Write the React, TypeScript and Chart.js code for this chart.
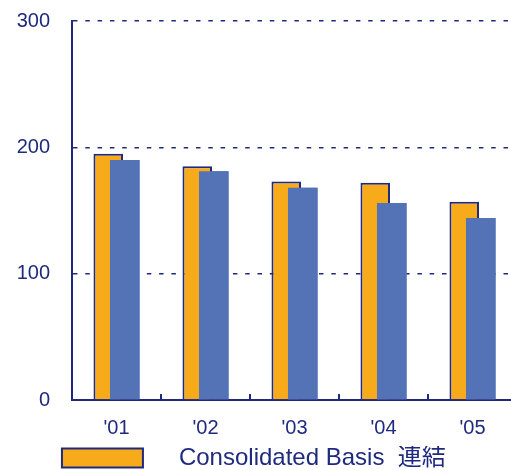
import React, { useEffect, useRef } from "react";
import { Chart, registerables } from "chart.js";

Chart.register(...registerables);

const categories = ["'01", "'02", "'03", "'04", "'05"];
const consolidated = [195, 185, 173, 172, 157];
const secondSeries = [190, 181, 168, 156, 144];
const yTicks = [0, 100, 200, 300];
const legendLabel = "   \u2006Consolidated Basis  連結  \u2006";

const NAVY = "#1f2a7e";
const ORANGE = "#f7ab1b";
const BLUE = "#5472b6";
const CLEAR = "rgba(0,0,0,0)";
const FONT = "'Liberation Sans', Arial, 'Noto Sans CJK JP', sans-serif";

const blueOnTop = {
  id: "blueOnTop",
  afterDatasetsDraw(chart: any) {
    const meta = chart.getDatasetMeta(1);
    if (meta && meta.controller) {
      const ctx = chart.ctx;
      ctx.save();
      meta.controller.draw();
      ctx.restore();
    }
  },
};

const upTicks = {
  id: "upTicks",
  afterDraw(chart: any) {
    const xs = chart.scales.x;
    const ctx = chart.ctx;
    const bottom = chart.chartArea.bottom;
    ctx.save();
    ctx.strokeStyle = NAVY;
    ctx.lineWidth = 2;
    for (let i = 0; i < categories.length; i++) {
      const x = Math.round(xs.getPixelForValue(i + 0.5));
      ctx.beginPath();
      ctx.moveTo(x, bottom);
      ctx.lineTo(x, bottom - 6);
      ctx.stroke();
    }
    ctx.restore();
  },
};

export default function App() {
  const ref = useRef<HTMLCanvasElement | null>(null);
  useEffect(() => {
    document.documentElement.style.overflow = "hidden";
    if (!ref.current) return;
    const chart = new Chart(ref.current, {
      type: "bar",
      data: {
        labels: categories,
        datasets: [
          {
            label: legendLabel,
            data: consolidated,
            backgroundColor: ORANGE,
            borderColor: NAVY,
            borderWidth: 2,
            categoryPercentage: 0.371,
            barPercentage: 1.79,
          },
          {
            label: "second",
            data: secondSeries,
            backgroundColor: BLUE,
            borderWidth: 0,
            categoryPercentage: 0.371,
            barPercentage: 1.79,
          },
        ],
      },
      plugins: [blueOnTop, upTicks],
      options: {
        animation: false,
        responsive: false,
        devicePixelRatio: 1,
        layout: { padding: { top: 13, left: 0, right: 0, bottom: 0 } },
        plugins: {
          tooltip: { enabled: false },
          legend: {
            position: "bottom",
            labels: {
              filter: (item: any) => item.datasetIndex === 0,
              boxWidth: 81,
              boxHeight: 19,
              padding: 0,
              color: NAVY,
              font: { family: FONT, size: 24 },
            },
          },
        },
        scales: {
          x: {
            grid: {
              display: true,
              drawOnChartArea: false,
              drawTicks: true,
              tickLength: 10,
              color: CLEAR,
              tickColor: CLEAR,
            },
            border: { display: true, color: NAVY, width: 2 },
            ticks: {
              color: NAVY,
              padding: 6,
              font: { family: FONT, size: 20 },
            },
          },
          y: {
            min: 0,
            max: 300,
            afterFit: (scale: any) => {
              scale.width = 64;
            },
            afterBuildTicks: (scale: any) => {
              scale.ticks = yTicks.map((v) => ({ value: v }));
            },
            grid: {
              display: true,
              drawTicks: true,
              tickLength: 22,
              tickColor: CLEAR,
              color: NAVY,
              lineWidth: 1.5,
            },
            border: { display: true, color: NAVY, width: 2, dash: [4.5, 7.8] },
            ticks: {
              color: NAVY,
              padding: 0,
              font: { family: FONT, size: 20 },
            },
          },
        },
      },
    });
    return () => chart.destroy();
  }, []);
  return (
    <div style={{ position: "fixed", left: 8, top: 8, width: 509, height: 472 }}>
      <canvas ref={ref} width={509} height={472} style={{ display: "block" }} />
    </div>
  );
}
